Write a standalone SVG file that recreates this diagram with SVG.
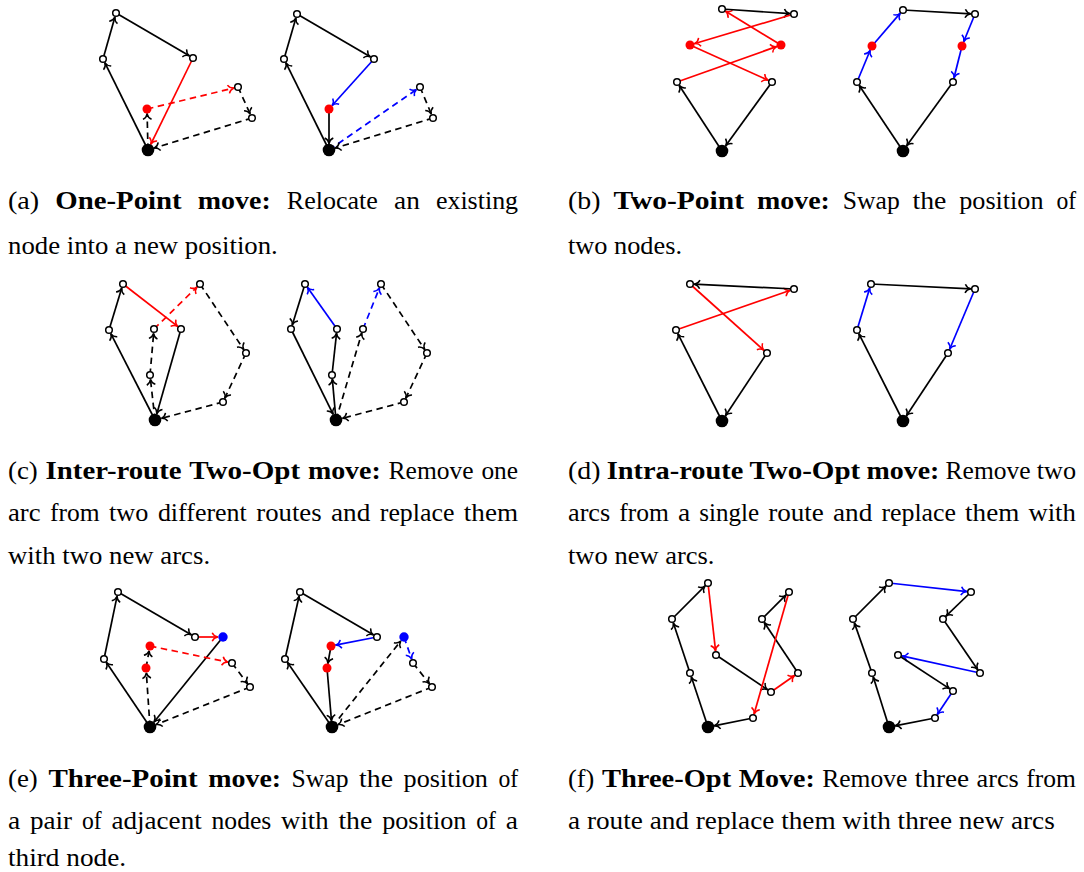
<svg xmlns="http://www.w3.org/2000/svg" width="1084" height="872" viewBox="0 0 1084 872">
<style>
.e{fill:none;stroke:#000;stroke-width:1.7;marker-end:url(#mk)}
.e.r{stroke:#f00;marker-end:url(#mr)}
.e.b{stroke:#00f;marker-end:url(#mb)}
.d{stroke-dasharray:6.5 4.5}
.n{fill:#fff;stroke:#000;stroke-width:1.5}
.nr{fill:#f00;stroke:none}
.nb{fill:#00f;stroke:none}
.dp{fill:#000;stroke:none}
.t{font-family:"Liberation Serif","Times New Roman",serif;font-size:24.4px;fill:#000}
.bd{font-weight:bold}
</style>
<defs>
<marker id="mk" markerUnits="userSpaceOnUse" orient="auto" markerWidth="14" markerHeight="14" viewBox="-7 -7 14 14" refX="0.5" refY="0" overflow="visible"><path d="M-5.5,-4.3 C-4.3,-1.6 -1.5,-0.3 0,0 C-1.5,0.3 -4.3,1.6 -5.5,4.3" fill="none" stroke="#000" stroke-width="1.5"/></marker>
<marker id="mr" markerUnits="userSpaceOnUse" orient="auto" markerWidth="14" markerHeight="14" viewBox="-7 -7 14 14" refX="0.5" refY="0" overflow="visible"><path d="M-5.5,-4.3 C-4.3,-1.6 -1.5,-0.3 0,0 C-1.5,0.3 -4.3,1.6 -5.5,4.3" fill="none" stroke="#f00" stroke-width="1.5"/></marker>
<marker id="mb" markerUnits="userSpaceOnUse" orient="auto" markerWidth="14" markerHeight="14" viewBox="-7 -7 14 14" refX="0.5" refY="0" overflow="visible"><path d="M-5.5,-4.3 C-4.3,-1.6 -1.5,-0.3 0,0 C-1.5,0.3 -4.3,1.6 -5.5,4.3" fill="none" stroke="#00f" stroke-width="1.5"/></marker>
</defs>

<!-- (a) left -->
<g id="conn-a1">
<line class="e" x1="148" y1="150" x2="104.7" y2="62.4"/>
<line class="e" x1="103" y1="59" x2="115" y2="16.7"/>
<line class="e" x1="116" y1="13" x2="189.7" y2="56.1"/>
<line class="e r" x1="193" y1="58" x2="150.6" y2="144.6"/>
<line class="e d" x1="148" y1="150" x2="147.1" y2="113.3"/>
<line class="e r d" x1="147" y1="109" x2="234.3" y2="87.9"/>
<line class="e d" x1="238" y1="87" x2="250.4" y2="114.5"/>
<line class="e d" x1="252" y1="118" x2="153.7" y2="148.2"/>
</g>
<g id="a1-dep"><circle class="dp" cx="148" cy="150" r="6.3"/></g>
<g id="a1-n1"><circle class="n" cx="116" cy="13" r="3.3"/></g>
<g id="a1-n2"><circle class="n" cx="103" cy="59" r="3.3"/></g>
<g id="a1-n3"><circle class="n" cx="193" cy="58" r="3.3"/></g>
<g id="a1-n4"><circle class="nr" cx="147" cy="109" r="4.5"/></g>
<g id="a1-n5"><circle class="n" cx="238" cy="87" r="3.3"/></g>
<g id="a1-n6"><circle class="n" cx="252" cy="118" r="3.3"/></g>

<!-- (a) right -->
<g id="conn-a2">
<line class="e" x1="329" y1="150" x2="285.7" y2="62.4"/>
<line class="e" x1="284" y1="59" x2="296" y2="17.7"/>
<line class="e" x1="297" y1="14" x2="370.7" y2="57.1"/>
<line class="e b" x1="374" y1="59" x2="331.9" y2="105.8"/>
<line class="e" x1="329" y1="109" x2="329" y2="144"/>
<line class="e b d" x1="329" y1="150" x2="416.9" y2="89.2"/>
<line class="e d" x1="420" y1="87" x2="431.5" y2="114.5"/>
<line class="e d" x1="433" y1="118" x2="334.7" y2="148.2"/>
</g>
<g id="a2-dep"><circle class="dp" cx="329" cy="150" r="6.3"/></g>
<g id="a2-n1"><circle class="n" cx="297" cy="14" r="3.3"/></g>
<g id="a2-n2"><circle class="n" cx="284" cy="59" r="3.3"/></g>
<g id="a2-n3"><circle class="n" cx="374" cy="59" r="3.3"/></g>
<g id="a2-n4"><circle class="nr" cx="329" cy="109" r="4.5"/></g>
<g id="a2-n5"><circle class="n" cx="420" cy="87" r="3.3"/></g>
<g id="a2-n6"><circle class="n" cx="433" cy="118" r="3.3"/></g>

<!-- (b) left -->
<g id="conn-b1">
<line class="e" x1="722" y1="151" x2="679.1" y2="85.2"/>
<line class="e r" x1="677" y1="82" x2="777" y2="46.4"/>
<line class="e r" x1="781" y1="45" x2="725.2" y2="11"/>
<line class="e" x1="722" y1="9" x2="790.2" y2="13.7"/>
<line class="e r" x1="794" y1="14" x2="694.1" y2="43.8"/>
<line class="e r" x1="690" y1="45" x2="768.5" y2="80.4"/>
<line class="e" x1="772" y1="82" x2="725.5" y2="146.1"/>
</g>
<g id="b1-dep"><circle class="dp" cx="722" cy="151" r="6.3"/></g>
<g id="b1-n1"><circle class="n" cx="722" cy="9" r="3.3"/></g>
<g id="b1-n2"><circle class="n" cx="794" cy="14" r="3.3"/></g>
<g id="b1-n3"><circle class="nr" cx="690" cy="45" r="4.5"/></g>
<g id="b1-n4"><circle class="nr" cx="781" cy="45" r="4.5"/></g>
<g id="b1-n5"><circle class="n" cx="677" cy="82" r="3.3"/></g>
<g id="b1-n6"><circle class="n" cx="772" cy="82" r="3.3"/></g>

<!-- (b) right -->
<g id="conn-b2">
<line class="e" x1="903" y1="151" x2="859.1" y2="85.2"/>
<line class="e b" x1="857" y1="82" x2="870.3" y2="50"/>
<line class="e b" x1="872" y1="46" x2="900.5" y2="12.9"/>
<line class="e" x1="903" y1="10" x2="971.2" y2="13.8"/>
<line class="e b" x1="975" y1="14" x2="963.6" y2="42"/>
<line class="e b" x1="962" y1="46" x2="953.9" y2="78.3"/>
<line class="e" x1="953" y1="82" x2="906.5" y2="146.1"/>
</g>
<g id="b2-dep"><circle class="dp" cx="903" cy="151" r="6.3"/></g>
<g id="b2-n1"><circle class="n" cx="903" cy="10" r="3.3"/></g>
<g id="b2-n2"><circle class="n" cx="975" cy="14" r="3.3"/></g>
<g id="b2-n3"><circle class="nr" cx="872" cy="46" r="4.5"/></g>
<g id="b2-n4"><circle class="nr" cx="962" cy="46" r="4.5"/></g>
<g id="b2-n5"><circle class="n" cx="857" cy="82" r="3.3"/></g>
<g id="b2-n6"><circle class="n" cx="953" cy="82" r="3.3"/></g>

<!-- (c) left -->
<g id="conn-c1">
<line class="e" x1="155" y1="420" x2="110.7" y2="333.4"/>
<line class="e" x1="109" y1="330" x2="121.9" y2="287.6"/>
<line class="e r" x1="123" y1="284" x2="178" y2="326.7"/>
<line class="e" x1="181" y1="329" x2="156.7" y2="414.2"/>
<line class="e d" x1="155" y1="420" x2="150.4" y2="378.8"/>
<line class="e d" x1="150" y1="375" x2="153.7" y2="332.8"/>
<line class="e r d" x1="154" y1="329" x2="197.3" y2="286.7"/>
<line class="e d" x1="200" y1="284" x2="243.9" y2="349.8"/>
<line class="e d" x1="246" y1="353" x2="224.6" y2="398.6"/>
<line class="e d" x1="223" y1="402" x2="160.8" y2="418.5"/>
</g>
<g id="c1-dep"><circle class="dp" cx="155" cy="420" r="6.3"/></g>
<g id="c1-n1"><circle class="n" cx="123" cy="284" r="3.3"/></g>
<g id="c1-n2"><circle class="n" cx="109" cy="330" r="3.3"/></g>
<g id="c1-n3"><circle class="n" cx="181" cy="329" r="3.3"/></g>
<g id="c1-n4"><circle class="n" cx="154" cy="329" r="3.3"/></g>
<g id="c1-n5"><circle class="n" cx="200" cy="284" r="3.3"/></g>
<g id="c1-n6"><circle class="n" cx="246" cy="353" r="3.3"/></g>
<g id="c1-n7"><circle class="n" cx="223" cy="402" r="3.3"/></g>
<g id="c1-n8"><circle class="n" cx="150" cy="375" r="3.3"/></g>

<!-- (c) right -->
<g id="conn-c2">
<line class="e" x1="336" y1="420" x2="332.3" y2="378.8"/>
<line class="e" x1="332" y1="375" x2="336.6" y2="332.8"/>
<line class="e b" x1="337" y1="329" x2="307.2" y2="287.1"/>
<line class="e" x1="305" y1="284" x2="292.1" y2="325.4"/>
<line class="e" x1="291" y1="329" x2="333.3" y2="414.6"/>
<line class="e d" x1="336" y1="420" x2="361.9" y2="332.6"/>
<line class="e b d" x1="363" y1="329" x2="379.6" y2="287.5"/>
<line class="e d" x1="381" y1="284" x2="424.9" y2="349.8"/>
<line class="e d" x1="427" y1="353" x2="405.6" y2="398.6"/>
<line class="e d" x1="404" y1="402" x2="341.8" y2="418.5"/>
</g>
<g id="c2-dep"><circle class="dp" cx="336" cy="420" r="6.3"/></g>
<g id="c2-n1"><circle class="n" cx="305" cy="284" r="3.3"/></g>
<g id="c2-n2"><circle class="n" cx="291" cy="329" r="3.3"/></g>
<g id="c2-n3"><circle class="n" cx="337" cy="329" r="3.3"/></g>
<g id="c2-n4"><circle class="n" cx="363" cy="329" r="3.3"/></g>
<g id="c2-n5"><circle class="n" cx="381" cy="284" r="3.3"/></g>
<g id="c2-n6"><circle class="n" cx="427" cy="353" r="3.3"/></g>
<g id="c2-n7"><circle class="n" cx="404" cy="402" r="3.3"/></g>
<g id="c2-n8"><circle class="n" cx="332" cy="375" r="3.3"/></g>

<!-- (d) left -->
<g id="conn-d1">
<line class="e" x1="722" y1="421" x2="677.7" y2="333.4"/>
<line class="e r" x1="676" y1="330" x2="790.4" y2="290.2"/>
<line class="e" x1="794" y1="289" x2="693.8" y2="284.2"/>
<line class="e r" x1="690" y1="284" x2="764.2" y2="350.5"/>
<line class="e" x1="767" y1="353" x2="725.3" y2="416"/>
</g>
<g id="d1-dep"><circle class="dp" cx="722" cy="421" r="6.3"/></g>
<g id="d1-n1"><circle class="n" cx="690" cy="284" r="3.3"/></g>
<g id="d1-n2"><circle class="n" cx="794" cy="289" r="3.3"/></g>
<g id="d1-n3"><circle class="n" cx="676" cy="330" r="3.3"/></g>
<g id="d1-n4"><circle class="n" cx="767" cy="353" r="3.3"/></g>

<!-- (d) right -->
<g id="conn-d2">
<line class="e" x1="903" y1="421" x2="858.7" y2="333.4"/>
<line class="e b" x1="857" y1="330" x2="869.9" y2="287.6"/>
<line class="e" x1="871" y1="284" x2="971.2" y2="288.8"/>
<line class="e b" x1="975" y1="289" x2="949.5" y2="349.5"/>
<line class="e" x1="948" y1="353" x2="906.3" y2="416"/>
</g>
<g id="d2-dep"><circle class="dp" cx="903" cy="421" r="6.3"/></g>
<g id="d2-n1"><circle class="n" cx="871" cy="284" r="3.3"/></g>
<g id="d2-n2"><circle class="n" cx="975" cy="289" r="3.3"/></g>
<g id="d2-n3"><circle class="n" cx="857" cy="330" r="3.3"/></g>
<g id="d2-n4"><circle class="n" cx="948" cy="353" r="3.3"/></g>

<!-- (e) left -->
<g id="conn-e1">
<line class="e" x1="150" y1="727" x2="106.1" y2="662.1"/>
<line class="e" x1="104" y1="659" x2="117.2" y2="595.7"/>
<line class="e" x1="118" y1="592" x2="191.7" y2="635.1"/>
<line class="e r" x1="195" y1="637" x2="218.2" y2="637"/>
<line class="e" x1="223" y1="637" x2="153.8" y2="722.3"/>
<line class="e d" x1="150" y1="727" x2="146.3" y2="672.3"/>
<line class="e d" x1="146" y1="668" x2="149.2" y2="650.2"/>
<line class="e r d" x1="150" y1="646" x2="228.3" y2="662.2"/>
<line class="e d" x1="232" y1="663" x2="247.7" y2="684"/>
<line class="e d" x1="250" y1="687" x2="155.6" y2="724.8"/>
</g>
<g id="e1-dep"><circle class="dp" cx="150" cy="727" r="6.3"/></g>
<g id="e1-n1"><circle class="n" cx="118" cy="592" r="3.3"/></g>
<g id="e1-n2"><circle class="n" cx="104" cy="659" r="3.3"/></g>
<g id="e1-n3"><circle class="n" cx="195" cy="637" r="3.3"/></g>
<g id="e1-n4"><circle class="nb" cx="223" cy="637" r="4.7"/></g>
<g id="e1-n5"><circle class="nr" cx="150" cy="646" r="4.5"/></g>
<g id="e1-n6"><circle class="nr" cx="146" cy="668" r="4.5"/></g>
<g id="e1-n7"><circle class="n" cx="232" cy="663" r="3.3"/></g>
<g id="e1-n8"><circle class="n" cx="250" cy="687" r="3.3"/></g>

<!-- (e) right -->
<g id="conn-e2">
<line class="e" x1="332" y1="727" x2="287.2" y2="662.1"/>
<line class="e" x1="285" y1="659" x2="299.2" y2="595.7"/>
<line class="e" x1="300" y1="592" x2="373.7" y2="635.1"/>
<line class="e b" x1="377" y1="637" x2="335.2" y2="645.2"/>
<line class="e" x1="331" y1="646" x2="327.8" y2="663.8"/>
<line class="e" x1="327" y1="668" x2="331.5" y2="721"/>
<line class="e d" x1="332" y1="727" x2="401" y2="640.7"/>
<line class="e b d" x1="404" y1="637" x2="411.8" y2="659.4"/>
<line class="e d" x1="413" y1="663" x2="429.6" y2="684"/>
<line class="e d" x1="432" y1="687" x2="337.6" y2="724.8"/>
</g>
<g id="e2-dep"><circle class="dp" cx="332" cy="727" r="6.3"/></g>
<g id="e2-n1"><circle class="n" cx="300" cy="592" r="3.3"/></g>
<g id="e2-n2"><circle class="n" cx="285" cy="659" r="3.3"/></g>
<g id="e2-n3"><circle class="n" cx="377" cy="637" r="3.3"/></g>
<g id="e2-n4"><circle class="nb" cx="404" cy="637" r="4.7"/></g>
<g id="e2-n5"><circle class="nr" cx="331" cy="646" r="4.5"/></g>
<g id="e2-n6"><circle class="nr" cx="327" cy="668" r="4.5"/></g>
<g id="e2-n7"><circle class="n" cx="413" cy="663" r="3.3"/></g>
<g id="e2-n8"><circle class="n" cx="432" cy="687" r="3.3"/></g>

<!-- (f) left -->
<g id="conn-f1">
<line class="e" x1="708" y1="727" x2="691.2" y2="676.6"/>
<line class="e" x1="690" y1="673" x2="673.2" y2="622.6"/>
<line class="e" x1="672" y1="619" x2="705.3" y2="585.7"/>
<line class="e r" x1="708" y1="583" x2="715.6" y2="651.2"/>
<line class="e" x1="716" y1="655" x2="767.8" y2="689.9"/>
<line class="e r" x1="771" y1="692" x2="794.9" y2="675.2"/>
<line class="e" x1="798" y1="673" x2="764.1" y2="622.2"/>
<line class="e" x1="762" y1="619" x2="786.3" y2="594.7"/>
<line class="e r" x1="789" y1="592" x2="754" y2="714.3"/>
<line class="e" x1="753" y1="718" x2="713.9" y2="725.8"/>
</g>
<g id="f1-dep"><circle class="dp" cx="708" cy="727" r="6.3"/></g>
<g id="f1-n1"><circle class="n" cx="690" cy="673" r="3.3"/></g>
<g id="f1-n2"><circle class="n" cx="672" cy="619" r="3.3"/></g>
<g id="f1-n3"><circle class="n" cx="708" cy="583" r="3.3"/></g>
<g id="f1-n4"><circle class="n" cx="716" cy="655" r="3.3"/></g>
<g id="f1-n5"><circle class="n" cx="771" cy="692" r="3.3"/></g>
<g id="f1-n6"><circle class="n" cx="798" cy="673" r="3.3"/></g>
<g id="f1-n7"><circle class="n" cx="762" cy="619" r="3.3"/></g>
<g id="f1-n8"><circle class="n" cx="789" cy="592" r="3.3"/></g>
<g id="f1-n9"><circle class="n" cx="753" cy="718" r="3.3"/></g>

<!-- (f) right -->
<g id="conn-f2">
<line class="e" x1="889" y1="727" x2="873.1" y2="676.6"/>
<line class="e" x1="872" y1="673" x2="854.3" y2="622.6"/>
<line class="e" x1="853" y1="619" x2="886.3" y2="585.7"/>
<line class="e b" x1="889" y1="583" x2="967.2" y2="591.6"/>
<line class="e" x1="971" y1="592" x2="945.7" y2="616.4"/>
<line class="e" x1="943" y1="619" x2="977.9" y2="669.9"/>
<line class="e b" x1="980" y1="673" x2="901.7" y2="655.8"/>
<line class="e" x1="898" y1="655" x2="949.8" y2="688.9"/>
<line class="e b" x1="953" y1="691" x2="937.1" y2="714.8"/>
<line class="e" x1="935" y1="718" x2="894.9" y2="725.9"/>
</g>
<g id="f2-dep"><circle class="dp" cx="889" cy="727" r="6.3"/></g>
<g id="f2-n1"><circle class="n" cx="872" cy="673" r="3.3"/></g>
<g id="f2-n2"><circle class="n" cx="853" cy="619" r="3.3"/></g>
<g id="f2-n3"><circle class="n" cx="889" cy="583" r="3.3"/></g>
<g id="f2-n4"><circle class="n" cx="898" cy="655" r="3.3"/></g>
<g id="f2-n5"><circle class="n" cx="953" cy="691" r="3.3"/></g>
<g id="f2-n6"><circle class="n" cx="980" cy="673" r="3.3"/></g>
<g id="f2-n7"><circle class="n" cx="943" cy="619" r="3.3"/></g>
<g id="f2-n8"><circle class="n" cx="971" cy="592" r="3.3"/></g>
<g id="f2-n9"><circle class="n" cx="935" cy="718" r="3.3"/></g>

<!-- captions -->
<g id="cap-a">
<text class="t" y="208.5"><tspan x="8" textLength="31.2" lengthAdjust="spacingAndGlyphs">(a)</tspan> <tspan class="bd" x="55.3" textLength="126.4" lengthAdjust="spacingAndGlyphs">One-Point</tspan> <tspan class="bd" x="197.8" textLength="72.9" lengthAdjust="spacingAndGlyphs">move:</tspan> <tspan x="286.8" textLength="91.1" lengthAdjust="spacingAndGlyphs">Relocate</tspan> <tspan x="394" textLength="25.8" lengthAdjust="spacingAndGlyphs">an</tspan> <tspan x="435.9" textLength="82.2" lengthAdjust="spacingAndGlyphs">existing</tspan></text>
<text class="t" x="8" y="253.5" textLength="269.8" lengthAdjust="spacingAndGlyphs">node into a new position.</text>
</g>
<g id="cap-b">
<text class="t" y="208.5"><tspan x="568" textLength="32.5" lengthAdjust="spacingAndGlyphs">(b)</tspan> <tspan class="bd" x="613.4" textLength="130.7" lengthAdjust="spacingAndGlyphs">Two-Point</tspan> <tspan class="bd" x="757" textLength="72.9" lengthAdjust="spacingAndGlyphs">move:</tspan> <tspan x="842.8" textLength="56.9" lengthAdjust="spacingAndGlyphs">Swap</tspan> <tspan x="912.5" textLength="33.9" lengthAdjust="spacingAndGlyphs">the</tspan> <tspan x="959.3" textLength="84.2" lengthAdjust="spacingAndGlyphs">position</tspan> <tspan x="1056.4" textLength="19.7" lengthAdjust="spacingAndGlyphs">of</tspan></text>
<text class="t" x="568" y="253.5" textLength="114" lengthAdjust="spacingAndGlyphs">two nodes.</text>
</g>
<g id="cap-c">
<text class="t" y="478.5"><tspan x="8" textLength="29.8" lengthAdjust="spacingAndGlyphs">(c)</tspan> <tspan class="bd" x="45.6" textLength="135.9" lengthAdjust="spacingAndGlyphs">Inter-route</tspan> <tspan class="bd" x="189.3" textLength="110.8" lengthAdjust="spacingAndGlyphs">Two-Opt</tspan> <tspan class="bd" x="307.9" textLength="72.9" lengthAdjust="spacingAndGlyphs">move:</tspan> <tspan x="388.6" textLength="85" lengthAdjust="spacingAndGlyphs">Remove</tspan> <tspan x="481.4" textLength="36.6" lengthAdjust="spacingAndGlyphs">one</tspan></text>
<text class="t" y="520.5"><tspan x="8" textLength="32.6" lengthAdjust="spacingAndGlyphs">arc</tspan> <tspan x="50.1" textLength="49.6" lengthAdjust="spacingAndGlyphs">from</tspan> <tspan x="109.1" textLength="39.3" lengthAdjust="spacingAndGlyphs">two</tspan> <tspan x="157.9" textLength="88.9" lengthAdjust="spacingAndGlyphs">different</tspan> <tspan x="256.3" textLength="65.3" lengthAdjust="spacingAndGlyphs">routes</tspan> <tspan x="331" textLength="39.3" lengthAdjust="spacingAndGlyphs">and</tspan> <tspan x="379.8" textLength="74.6" lengthAdjust="spacingAndGlyphs">replace</tspan> <tspan x="463.8" textLength="54.2" lengthAdjust="spacingAndGlyphs">them</tspan></text>
<text class="t" x="8" y="563.5" textLength="202.1" lengthAdjust="spacingAndGlyphs">with two new arcs.</text>
</g>
<g id="cap-d">
<text class="t" y="478.5"><tspan x="568" textLength="32.5" lengthAdjust="spacingAndGlyphs">(d)</tspan> <tspan class="bd" x="606.7" textLength="136.6" lengthAdjust="spacingAndGlyphs">Intra-route</tspan> <tspan class="bd" x="749.5" textLength="110.8" lengthAdjust="spacingAndGlyphs">Two-Opt</tspan> <tspan class="bd" x="866.5" textLength="72.9" lengthAdjust="spacingAndGlyphs">move:</tspan> <tspan x="945.6" textLength="85" lengthAdjust="spacingAndGlyphs">Remove</tspan> <tspan x="1036.8" textLength="39.3" lengthAdjust="spacingAndGlyphs">two</tspan></text>
<text class="t" y="520.5"><tspan x="568" textLength="42.2" lengthAdjust="spacingAndGlyphs">arcs</tspan> <tspan x="619.3" textLength="49.6" lengthAdjust="spacingAndGlyphs">from</tspan> <tspan x="678" textLength="12.2" lengthAdjust="spacingAndGlyphs">a</tspan> <tspan x="699.3" textLength="59.8" lengthAdjust="spacingAndGlyphs">single</tspan> <tspan x="768.2" textLength="55.7" lengthAdjust="spacingAndGlyphs">route</tspan> <tspan x="833" textLength="39.3" lengthAdjust="spacingAndGlyphs">and</tspan> <tspan x="881.4" textLength="74.6" lengthAdjust="spacingAndGlyphs">replace</tspan> <tspan x="965.1" textLength="54.2" lengthAdjust="spacingAndGlyphs">them</tspan> <tspan x="1028.4" textLength="47.5" lengthAdjust="spacingAndGlyphs">with</tspan></text>
<text class="t" x="568" y="563.5" textLength="146.5" lengthAdjust="spacingAndGlyphs">two new arcs.</text>
</g>
<g id="cap-e">
<text class="t" y="786.5"><tspan x="8" textLength="29.8" lengthAdjust="spacingAndGlyphs">(e)</tspan> <tspan class="bd" x="48.4" textLength="149.2" lengthAdjust="spacingAndGlyphs">Three-Point</tspan> <tspan class="bd" x="208.2" textLength="72.9" lengthAdjust="spacingAndGlyphs">move:</tspan> <tspan x="291.6" textLength="56.9" lengthAdjust="spacingAndGlyphs">Swap</tspan> <tspan x="359.1" textLength="33.9" lengthAdjust="spacingAndGlyphs">the</tspan> <tspan x="403.6" textLength="84.2" lengthAdjust="spacingAndGlyphs">position</tspan> <tspan x="498.4" textLength="19.7" lengthAdjust="spacingAndGlyphs">of</tspan></text>
<text class="t" y="828.5"><tspan x="8" textLength="12.2" lengthAdjust="spacingAndGlyphs">a</tspan> <tspan x="30" textLength="42.1" lengthAdjust="spacingAndGlyphs">pair</tspan> <tspan x="81.9" textLength="19.7" lengthAdjust="spacingAndGlyphs">of</tspan> <tspan x="111.5" textLength="90.2" lengthAdjust="spacingAndGlyphs">adjacent</tspan> <tspan x="211.5" textLength="59.8" lengthAdjust="spacingAndGlyphs">nodes</tspan> <tspan x="281.1" textLength="47.5" lengthAdjust="spacingAndGlyphs">with</tspan> <tspan x="338.4" textLength="33.9" lengthAdjust="spacingAndGlyphs">the</tspan> <tspan x="382.2" textLength="84.2" lengthAdjust="spacingAndGlyphs">position</tspan> <tspan x="476.2" textLength="19.7" lengthAdjust="spacingAndGlyphs">of</tspan> <tspan x="505.7" textLength="12.2" lengthAdjust="spacingAndGlyphs">a</tspan></text>
<text class="t" x="8" y="866" textLength="118.1" lengthAdjust="spacingAndGlyphs">third node.</text>
</g>
<g id="cap-f">
<text class="t" y="786.5"><tspan x="568" textLength="26.4" lengthAdjust="spacingAndGlyphs">(f)</tspan> <tspan class="bd" x="601.9" textLength="129.3" lengthAdjust="spacingAndGlyphs">Three-Opt</tspan> <tspan class="bd" x="738.7" textLength="76.1" lengthAdjust="spacingAndGlyphs">Move:</tspan> <tspan x="822.3" textLength="85" lengthAdjust="spacingAndGlyphs">Remove</tspan> <tspan x="914.8" textLength="54.3" lengthAdjust="spacingAndGlyphs">three</tspan> <tspan x="976.6" textLength="42.2" lengthAdjust="spacingAndGlyphs">arcs</tspan> <tspan x="1026.3" textLength="49.6" lengthAdjust="spacingAndGlyphs">from</tspan></text>
<text class="t" x="568" y="828.5" textLength="486.8" lengthAdjust="spacingAndGlyphs">a route and replace them with three new arcs</text>
</g>
</svg>
